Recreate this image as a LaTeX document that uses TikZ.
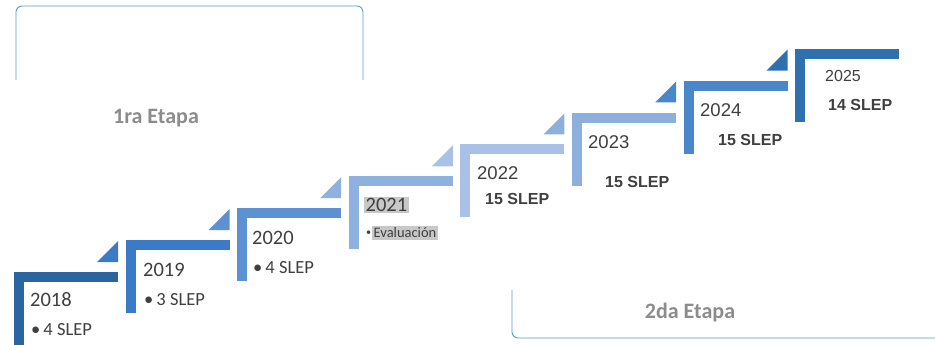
\documentclass[tikz,border=0pt]{standalone}
\usepackage{fontspec}
\setmainfont{Carlito}
\newfontfamily\arialfont{Liberation Sans}
\usetikzlibrary{calc}

\definecolor{paso0}{HTML}{2B65A0}
\definecolor{paso1}{HTML}{3A7AC6}
\definecolor{paso2}{HTML}{5D92D2}
\definecolor{paso3}{HTML}{8FB1E0}
\definecolor{paso4}{HTML}{A9C1E6}
\definecolor{paso5}{HTML}{8DAFDE}
\definecolor{paso6}{HTML}{4A86CA}
\definecolor{paso7}{HTML}{2E70B0}
\definecolor{llave}{HTML}{5B9BD5}
\definecolor{texto}{HTML}{3F3F3F}
\definecolor{etapagris}{HTML}{8C8C8C}
\definecolor{resalte}{HTML}{C8C8C8}

\begin{document}
\begin{tikzpicture}[x=1pt,y=-1pt,
		anio/.style={anchor=west,inner sep=0pt,text=texto,font=\fontsize{20.5}{22}\selectfont},
		anioB/.style={anchor=west,inner sep=0pt,text=texto,font=\arialfont\fontsize{18.5}{20}\selectfont},
		slep/.style={anchor=west,inner sep=0pt,text=texto,font=\fontsize{18.5}{20}\selectfont},
		slepB/.style={anchor=west,inner sep=0pt,text=texto,font=\arialfont\bfseries\fontsize{16}{18}\selectfont},
		etapa/.style={text=etapagris,font=\bfseries\fontsize{22}{24}\selectfont},
		llaveline/.style={draw=llave,line width=0.9pt,rounded corners=6pt}]
			% 全体の大きさ
			\useasboundingbox (0,0) rectangle (935,345);
			% 段の描画
			\foreach \i in {0,...,7}{
				\pgfmathsetmacro{\x}{14+111.6*\i}
				\pgfmathsetmacro{\y}{272-31.9*\i}
				\coordinate (s\i) at (\x,\y);
				\fill[paso\i] (s\i) rectangle ++(104,10);
				\fill[paso\i] (s\i) rectangle ++(10,73);
			}
			% 三角形の描画
			\foreach \i [evaluate=\i as \j using int(\i+1)] in {0,...,6}{
				\fill[paso\j] ($(s\i)+(83,-10)$) -- ++(21,0) -- ++(0,-21) -- cycle;
			}
			% 年の描画
			\node[anio] (y2018) at (30,300) {2018};
			\node[slep] (l2018) at (31,330) {•\,4 SLEP};
			\node[anio] (y2019) at (143,270) {2019};
			\node[slep] (l2019) at (144,300) {•\,3 SLEP};
			\node[anio] (y2020) at (252,238) {2020};
			\node[slep] (l2020) at (253,268) {•\,4 SLEP};
			\node[anio,fill=resalte,inner sep=1.5pt] (y2021) at (364,205) {2021};
			\node[slep,font=\fontsize{10}{12}\selectfont] (b2021) at (366,233) {•};
			\node[slep,fill=resalte,inner sep=1.5pt,font=\fontsize{14.5}{16}\selectfont] (l2021) at (372,233) {Evaluación};
			\node[anioB] (y2022) at (477,173) {2022};
			\node[slepB] (l2022) at (485,199) {15 SLEP};
			\node[anioB] (y2023) at (588,142) {2023};
			\node[slepB] (l2023) at (605,182) {15 SLEP};
			\node[anioB] (y2024) at (700,110) {2024};
			\node[slepB] (l2024) at (718,140) {15 SLEP};
			\node[anioB,font=\arialfont\fontsize{16}{18}\selectfont] (y2025) at (825,76) {2025};
			\node[slepB] (l2025) at (828,105) {14 SLEP};
			% 括弧の描画
			\draw[llaveline] (16,80) |- (363,6) -- (363,80);
			\draw[llaveline] (512,290) |- (935,338);
			\node[etapa] (etapa1) at (156,118) {1ra Etapa};
			\node[etapa] (etapa2) at (690,313) {2da Etapa};
		\end{tikzpicture}
\end{document}
